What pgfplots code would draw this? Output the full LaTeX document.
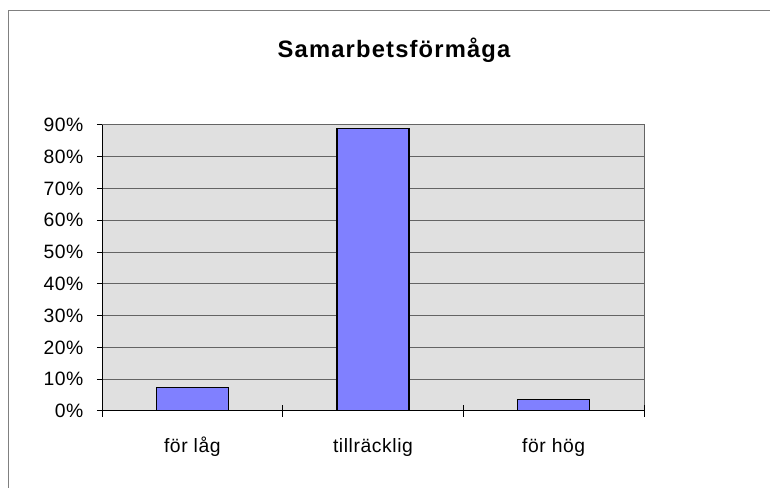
\documentclass[border=0pt]{standalone}
\usepackage{fontspec}
\setmainfont{Liberation Sans}
\newfontfamily\titlefont[LetterSpace=5]{Liberation Sans Bold}
\newfontfamily\labelfont[LetterSpace=3]{Liberation Sans}
\usepackage{pgfplots}
\pgfplotsset{compat=1.18}
\definecolor{barblue}{RGB}{128,128,255}
\definecolor{plotbg}{RGB}{224,224,224}
\definecolor{gridc}{RGB}{100,100,100}
\definecolor{framec}{RGB}{128,128,128}
\begin{document}
\begin{tikzpicture}
\clip (0,0) rectangle (577.5pt,366pt);
\draw[framec, line width=0.75pt] (6pt,-20pt) rectangle (600pt,357.75pt);
\node[anchor=base, font=\titlefont\fontsize{17.8}{21}\selectfont] at (295.5pt,322.5pt) {Samarbetsförmåga};
\begin{axis}[
  at={(76.5pt,57.75pt)}, anchor=south west,
  scale only axis, width=406.5pt, height=214.5pt,
  xmin=0.5, xmax=3.5, ymin=0, ymax=90,
  axis background/.style={fill=plotbg},
  axis line style={gridc, line width=0.75pt},
  ymajorgrids, grid style={gridc, line width=0.75pt},
  ybar, bar width=54pt,
  ytick={0,10,...,90},
  yticklabel={\pgfmathprintnumber{\tick}\%},
  /pgf/number format/assume math mode=true,
  ytick pos=left, xtick pos=bottom,
  tick align=outside,
  major tick length=3.75pt,
  tick style={black, line width=0.75pt},
  xtick={1,2,3},
  xticklabels={för låg, tillräcklig, för hög},
  xtick style={draw=none},
  xticklabel style={anchor=base, yshift=-27.75pt},
  extra x ticks={0.5,1.5,2.5,3.5},
  extra x tick labels={},
  extra x tick style={major tick length=9pt, tick align=center, grid=none,
    xtick style={draw=black}},
  tick label style={font=\labelfont\fontsize{14.5}{17}\selectfont, black},
  yticklabel style={anchor=east, inner sep=0pt, xshift=-10pt},
]
\addplot[fill=barblue, draw=black, line width=1.1pt] coordinates {(1,7.4) (2,88.9) (3,3.7)};
\draw[black, line width=0.75pt] (rel axis cs:0,1) -- (rel axis cs:0,0) -- (rel axis cs:1,0);
\end{axis}
\end{tikzpicture}
\end{document}
